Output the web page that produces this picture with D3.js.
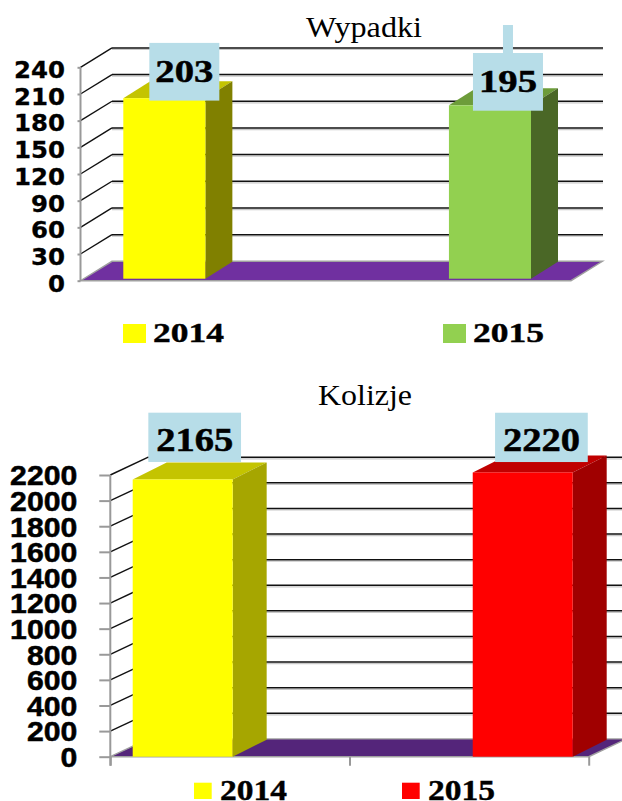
<!DOCTYPE html>
<html>
<head>
<meta charset="utf-8">
<script src="https://cdn.jsdelivr.net/npm/d3@7"></script>
<style>
html,body{margin:0;padding:0;background:#fff;overflow:hidden}
svg{display:block}
</style>
</head>
<body>
<script>
const years = ["2014", "2015"];
const wypadkiValues = [203, 195];
const kolizjeValues = [2165, 2220];
const wypadkiTicks = [0, 30, 60, 90, 120, 150, 180, 210, 240];
const kolizjeTicks = [0, 200, 400, 600, 800, 1000, 1200, 1400, 1600, 1800, 2000, 2200];

const svg = d3.select("body").append("svg").attr("width", 622).attr("height", 801);

function drawChart(c) {
  const g = svg.append("g");
  const y = d3.scaleLinear().domain(c.domain).range([c.y0, c.y1]);
  const x = d3.scaleBand().domain(years).range(c.barRange).paddingInner(c.inner).paddingOuter(0);
  const back = v => y(v) - c.depthY;

  // side wall and back wall grid
  const grid = g.append("g");
  const ticks = c.ticks.filter(t => t > 0);
  grid.selectAll("line.shadow").data(ticks).join("line").attr("class", "shadow")
    .attr("x1", c.axisX + c.depthX).attr("x2", c.gridEnd)
    .attr("y1", d => back(d) + 1.6).attr("y2", d => back(d) + 1.6)
    .attr("stroke", "#c8c8c8").attr("stroke-width", 1.2);
  grid.selectAll("line.back").data(ticks).join("line").attr("class", "back")
    .attr("x1", c.axisX + c.depthX).attr("x2", c.gridEnd)
    .attr("y1", back).attr("y2", back)
    .attr("stroke", "#111").attr("stroke-width", 1.5);
  grid.selectAll("line.side").data(ticks).join("line").attr("class", "side")
    .attr("x1", c.axisX).attr("y1", d => y(d))
    .attr("x2", c.axisX + c.depthX).attr("y2", back)
    .attr("stroke", "#111").attr("stroke-width", 1.4);

  // floor
  const fl = c.axisX, fr = c.floorRight, y0 = y(0);
  g.append("polygon")
    .attr("points", [[fl, y0], [fr, y0], [fr + c.depthX, y0 - c.depthY], [fl + c.depthX, y0 - c.depthY]].join(" "))
    .attr("fill", c.floor).attr("stroke", "#a0a0a0").attr("stroke-width", 1.4);

  // y axis
  const axis = d3.axisLeft(y).tickValues(c.ticks).tickSize(c.tickLen).tickPadding(c.tickPad).tickFormat(d3.format("d"));
  const ag = g.append("g").attr("transform", `translate(${c.axisX},0)`).call(axis);
  ag.selectAll("path,line").attr("stroke", "#999").attr("stroke-width", 2);
  ag.select("path").attr("d", `M0,${y(c.domain[1])}V${c.y0 + c.axisExtra}`);
  ag.selectAll("text")
    .attr("fill", "#000")
    .style("font-family", c.tickFont).style("font-weight", "bold").style("font-size", c.tickSize + "px")
    .style("stroke", "#000").style("stroke-width", c.tickStroke)
    .attr("dy", c.tickDy)
    .attr("textLength", d => String(d).length * c.tickDigit)
    .attr("lengthAdjust", "spacingAndGlyphs");

  // x-axis ticks
  if (c.xTicks) {
    const xt = d3.scaleLinear().domain([0, c.xTicks]).range([fl, fr]);
    const xa = d3.axisBottom(xt).ticks(c.xTicks).tickSize(9).tickFormat("");
    const xg = g.append("g").attr("transform", `translate(0,${y0})`).call(xa);
    xg.select("path").remove();
    xg.selectAll("line").attr("stroke", "#999").attr("stroke-width", 2);
  }

  // bars
  years.forEach((yr, i) => {
    const v = c.values[i], col = c.colors[i];
    const l = x(yr), r = l + x.bandwidth(), t = y(v) - c.barLift, b = y(0) - c.barLift;
    const bg = g.append("g");
    bg.append("polygon").attr("fill", col[2])
      .attr("points", [[l, t], [r, t], [r + c.barDX, t - c.barDY], [l + c.barDX, t - c.barDY]].join(" "));
    bg.append("polygon").attr("fill", col[1])
      .attr("points", [[r, t], [r + c.barDX, t - c.barDY], [r + c.barDX, b - c.barDY], [r, b]].join(" "));
    bg.append("rect").attr("x", l).attr("y", t).attr("width", r - l).attr("height", b - t).attr("fill", col[0]);
  });

  // value labels
  years.forEach((yr, i) => {
    const v = c.values[i], s = c.labelShift[i];
    const cx = x(yr) + x.bandwidth() / 2 + s[0];
    const bot = y(v) - c.barLift + s[1];
    if (c.leader && c.leader[i]) {
      g.append("rect").attr("x", cx - 5).attr("y", bot - c.boxH - c.leader[i])
        .attr("width", 10).attr("height", c.leader[i]).attr("fill", "#b7dde8");
    }
    g.append("rect").attr("x", cx - c.boxW / 2).attr("y", bot - c.boxH)
      .attr("width", c.boxW).attr("height", c.boxH).attr("fill", "#b7dde8");
    g.append("text").text(v).attr("x", cx).attr("y", bot - c.labelBase)
      .attr("text-anchor", "middle")
      .style("font-family", "'Liberation Serif'").style("font-weight", "bold").style("font-size", c.labelSize + "px")
      .style("stroke", "#000").style("stroke-width", 0.5)
      .attr("textLength", c.labelLen).attr("lengthAdjust", "spacingAndGlyphs");
  });

  // title
  g.append("text").text(c.title).attr("x", c.titleX).attr("y", c.titleY)
    .style("font-family", "'Liberation Serif'").style("font-size", c.titleSize + "px")
    .attr("textLength", c.titleLen).attr("lengthAdjust", "spacingAndGlyphs");

  // legend
  years.forEach((yr, i) => {
    const lx = c.legendX[i];
    g.append("rect").attr("x", lx).attr("y", c.legendY).attr("width", c.swatch[0]).attr("height", c.swatch[1]).attr("fill", c.colors[i][0]);
    g.append("text").text(yr).attr("x", lx + c.legendGap).attr("y", c.legendBase)
      .style("font-family", "'Liberation Serif'").style("font-weight", "bold").style("font-size", c.legendSize + "px")
      .style("stroke", "#000").style("stroke-width", 0.4)
      .attr("textLength", c.legendLen).attr("lengthAdjust", "spacingAndGlyphs");
  });
}

drawChart({
  title: "Wypadki", titleX: 306, titleY: 37, titleSize: 29, titleLen: 116,
  values: wypadkiValues, ticks: wypadkiTicks, domain: [0, 240],
  y0: 280.7, y1: 67.3, axisX: 80.5, axisExtra: 0, depthX: 31.5, depthY: 19.4,
  gridEnd: 603, floorRight: 571, floor: "#7030a0",
  barRange: [123.3, 531], inner: 0.748, barLift: 2, barDX: 27, barDY: 17,
  colors: [["#ffff00", "#808000", "#c4c400"], ["#92d050", "#4a6726", "#6d9c3a"]],
  tickLen: 3, tickPad: 12.5, tickFont: "'DejaVu Sans'", tickSize: 23.5, tickDigit: 17, tickDy: "0.44em", tickStroke: 0.3,
  labelShift: [[20, 2.4], [18, 5.4]], leader: [0, 28], boxW: 70, boxH: 57.7, labelBase: 18.5,
  labelSize: 31, labelLen: 58,
  legendX: [123, 443], legendY: 324, swatch: [23, 19], legendGap: 30, legendBase: 342,
  legendSize: 27, legendLen: 71
});

drawChart({
  title: "Kolizje", titleX: 318, titleY: 405, titleSize: 29, titleLen: 94,
  values: kolizjeValues, ticks: kolizjeTicks, domain: [0, 2200],
  y0: 756.7, y1: 475, axisX: 110.3, axisExtra: 9, depthX: 38, depthY: 17.8,
  gridEnd: 622, floorRight: 588.7, floor: "#54257a",
  barRange: [132.7, 572.7], inner: 0.706, barLift: 0, barDX: 34, barDY: 17,
  colors: [["#ffff00", "#a6a600", "#c4c400"], ["#ff0000", "#a00000", "#c00000"]],
  tickLen: 11, tickPad: 22, tickFont: "'Liberation Sans'", tickSize: 27.5, tickDigit: 16.8, tickDy: "0.36em", tickStroke: 0.5,
  labelShift: [[12, -17.5], [18.7, -10.4]], leader: null, boxW: 92.7, boxH: 49.3, labelBase: 11,
  labelSize: 34, labelLen: 77,
  xTicks: 2,
  legendX: [194, 402], legendY: 782.7, swatch: [17.7, 16.3], legendGap: 26, legendBase: 800,
  legendSize: 30, legendLen: 67
});
</script>
</body>
</html>
